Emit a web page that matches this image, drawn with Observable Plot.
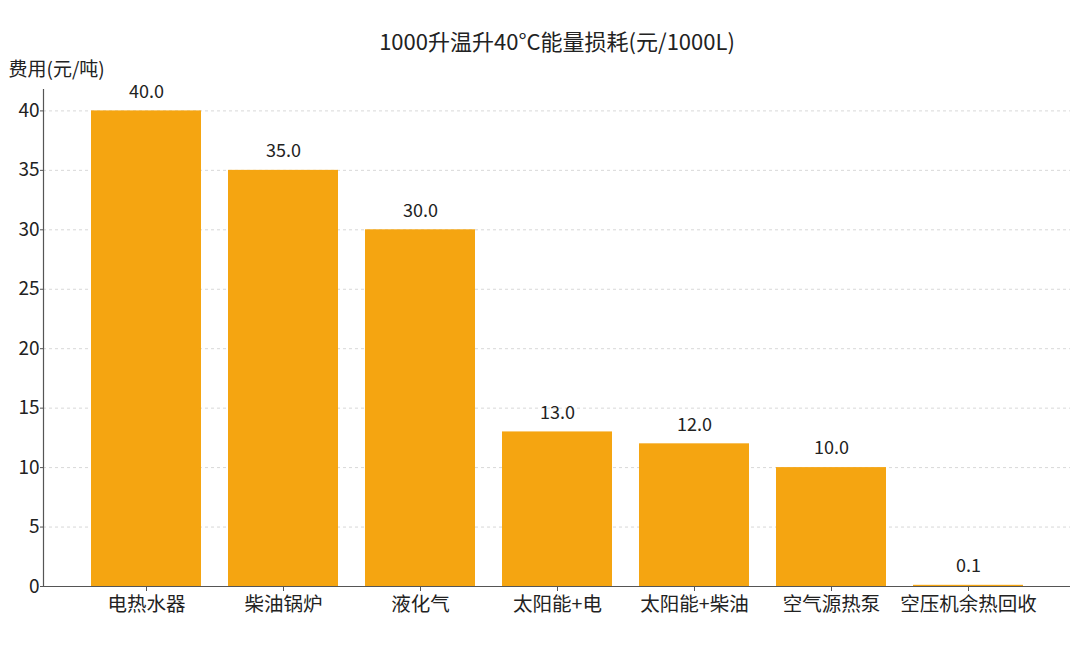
<!DOCTYPE html>
<html>
<head>
<meta charset="utf-8">
<script src="https://cdn.jsdelivr.net/npm/d3@7"></script>
<script src="https://cdn.jsdelivr.net/npm/@observablehq/plot@0.6"></script>
<style>
  html, body { margin: 0; padding: 0; background: #fff; }
  #chart svg { display: block; }
</style>
</head>
<body>
<div id="chart"></div>
<script>
const categories = ["电热水器", "柴油锅炉", "液化气", "太阳能+电", "太阳能+柴油", "空气源热泵", "空压机余热回收"];
const values = [40.0, 35.0, 30.0, 13.0, 12.0, 10.0, 0.1];
const yTicks = [0, 5, 10, 15, 20, 25, 30, 35, 40];
const titleText = "1000升温升40°C能量损耗(元/1000L)";
const yLabel = "费用(元/吨)";

const data = categories.map((c, i) => ({category: c, value: values[i]}));
const font = "'Noto Sans CJK SC', 'Noto Sans', sans-serif";

const chart = Plot.plot({
  width: 1080,
  height: 650,
  marginTop: 89,
  marginBottom: 64,
  marginLeft: 43,
  marginRight: 10,
  style: {fontFamily: font, color: "#222", background: "#fff"},
  x: {domain: categories, paddingInner: 0.2, paddingOuter: 0.33, align: 0.5, label: null},
  y: {domain: [0, 41.8], label: null},
  marks: [
    Plot.gridY(yTicks, {stroke: "#d8d8d8", strokeOpacity: 1, strokeDasharray: "3,3"}),
    Plot.barY(data, {x: "category", y: "value", fill: "#F5A511"}),
    Plot.text(data, {x: "category", y: "value", text: d => d.value.toFixed(1), dy: -19, fontSize: 18, fill: "#222"}),
    Plot.ruleY([0], {stroke: "#555", strokeWidth: 1.2}),
    Plot.frame({anchor: "left", stroke: "#555", strokeWidth: 1.2}),
    Plot.axisY({ticks: yTicks, tickSize: 3, tickPadding: 1, fontSize: 19, stroke: "#555", label: null}),
    Plot.axisX({tickSize: 5, tickPadding: 6, fontSize: 19.5, stroke: "#555", label: null}),
    Plot.text([titleText], {frameAnchor: "top", dy: -55, fontSize: 22, fill: "#222"}),
    Plot.text([yLabel], {frameAnchor: "top-left", dx: -35, dy: -27, textAnchor: "start", fontSize: 19, fill: "#222"})
  ]
});
document.getElementById("chart").append(chart);
</script>
</body>
</html>
